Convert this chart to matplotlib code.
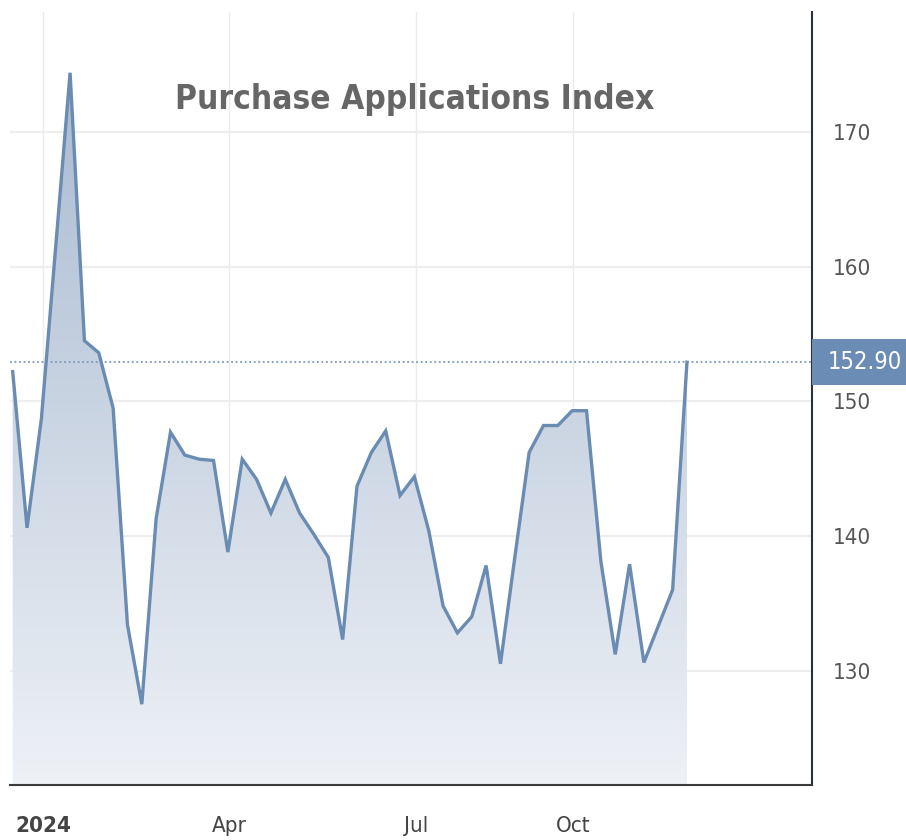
import numpy as np
import matplotlib
matplotlib.use("Agg")
import matplotlib.pyplot as plt
from matplotlib.colors import LinearSegmentedColormap
from matplotlib.transforms import blended_transform_factory
from matplotlib.patches import Rectangle

plt.rcParams['font.family'] = ['DejaVu Sans']
plt.rcParams['font.stretch'] = 'condensed'

# weekly purchase applications index
values = [152.2, 140.6, 148.7, 161.5, 174.4, 154.5, 153.6, 149.5, 133.4, 127.5,
          141.3, 147.7, 146.0, 145.7, 145.6, 138.8, 145.7, 144.2, 141.7, 144.2,
          141.7, 140.1, 138.4, 132.3, 143.7, 146.2, 147.8, 143.0, 144.4, 140.4,
          134.8, 132.8, 134.0, 137.8, 130.5, 138.4, 146.2, 148.2, 148.2, 149.3,
          149.3, 138.1, 131.2, 137.9, 130.6, 133.3, 136.0, 152.9]
last_value = 152.90
month_labels = ['2024', 'Apr', 'Jul', 'Oct']
month_pos = [2.1, 15.1, 28.1, 39.05]
y_ticks = [130, 140, 150, 160, 170]

x = np.arange(len(values))
y = np.array(values)

fig = plt.figure(figsize=(9.06, 8.4), dpi=100)
ax = fig.add_axes([0.011, 0.0655, 0.885, 0.92])
xmin, xmax = -0.19, 55.7
ymin, ymax = 121.5, 178.9
ax.set_xlim(xmin, xmax)
ax.set_ylim(ymin, ymax)

# grid
for v in y_ticks:
    ax.axhline(v, color='#eeeeee', lw=1.6, zorder=0)
for p in month_pos:
    ax.axvline(p, color='#ebebeb', lw=1.0, zorder=0)

# gradient fill under the line
poly = ax.fill_between(x, y, ymin, facecolor='none', edgecolor='none')
cmap = LinearSegmentedColormap.from_list('g', ['#eef1f6', '#a7b9d0'])
grad = np.linspace(0, 1, 256).reshape(-1, 1)
im = ax.imshow(grad, cmap=cmap, origin='lower', aspect='auto',
               extent=[xmin, xmax, ymin, 176], zorder=1)
im.set_clip_path(poly.get_paths()[0], transform=ax.transData)

ax.plot(x, y, color='#6a8cb3', lw=2.4, zorder=3, solid_joinstyle='miter')

# last value line and label
ax.axhline(last_value, color='#7d98b9', lw=1.3, ls=(0, (1, 1.5)), zorder=2)
tr = blended_transform_factory(ax.transAxes, ax.transData)
ax.add_patch(Rectangle((1.0, last_value - 1.7), 0.13, 3.4, transform=tr,
                       facecolor='#6b8cb5', edgecolor='none', clip_on=False, zorder=4))
ax.text(1.066, last_value, f'{last_value:.2f}', transform=tr, color='white',
        fontsize=17, ha='center', va='center', zorder=5)

# title
ax.text(0.505, 0.887, 'Purchase Applications Index', transform=ax.transAxes,
        ha='center', va='center', fontsize=24, fontweight='bold', color='#666666')

# axes styling
ax.yaxis.tick_right()
ax.set_yticks(y_ticks)
ax.set_xticks(month_pos)
ax.set_xticklabels(month_labels)
ax.tick_params(axis='y', length=0, pad=15, labelsize=16, labelcolor='#555555')
ax.tick_params(axis='x', length=0, pad=22, labelsize=16, labelcolor='#444444')
ax.get_xticklabels()[0].set_fontweight('bold')
for s in ['top', 'left']:
    ax.spines[s].set_visible(False)
ax.spines['right'].set_color('#2b2f45')
ax.spines['bottom'].set_color('#3a3a3a')
ax.spines['right'].set_linewidth(1.5)
ax.spines['bottom'].set_linewidth(1.5)

fig.savefig('out.png', dpi=100)
